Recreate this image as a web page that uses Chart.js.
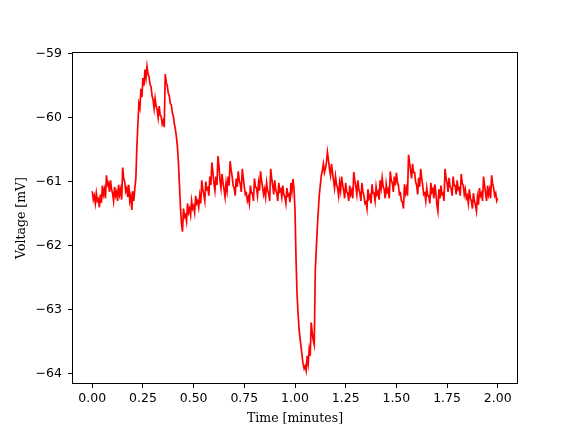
<!DOCTYPE html>
<html>
<head>
<meta charset="utf-8">
<script src="https://cdn.jsdelivr.net/npm/chart.js@4"></script>
<style>
  html, body { margin: 0; padding: 0; background: #fff; }
  #wrap { width: 576px; height: 432px; position: relative; }
</style>
</head>
<body>
<div id="wrap"><canvas id="trace"></canvas></div>
<script>
// sample clock of the recording (minutes)
const SAMPLE_STEP = 0.005;

// membrane voltage [mV], one value per sample
const voltage = [
  -61.15, -61.28, -61.22, -61.34, -61.18, -61.30, -61.27, -61.40, -61.20, -61.33, -61.06, -61.20, -61.12, -61.26, -60.90, -61.05, -61.02, -61.16, -60.98, -61.12,
  -61.18, -61.30, -61.08, -61.22, -61.16, -61.30, -61.05, -61.20, -61.12, -61.28, -60.78, -60.95, -61.00, -61.15, -61.10, -61.24, -61.05, -61.30, -61.22, -61.44,
  -61.15, -61.30, -61.10, -60.95, -60.45, -60.10, -59.78, -59.85, -59.55, -59.68, -59.38, -59.50, -59.25, -59.38, -59.20, -59.32, -59.36, -59.48, -59.52, -59.66,
  -59.72, -59.86, -59.70, -59.82, -59.88, -60.00, -59.82, -59.96, -59.98, -60.10, -60.05, -60.15, -59.32, -59.45, -59.50, -59.62, -59.66, -59.78, -59.80, -59.92,
  -59.98, -60.10, -60.18, -60.30, -60.45, -60.70, -61.05, -61.40, -61.65, -61.78, -61.42, -61.55, -61.52, -61.62, -61.34, -61.48, -61.42, -61.52, -61.30, -61.42,
  -61.38, -61.48, -61.22, -61.34, -61.30, -61.40, -61.22, -61.34, -60.98, -61.12, -61.20, -61.30, -61.00, -61.12, -61.10, -61.22, -60.92, -61.05, -60.70, -60.85,
  -61.02, -61.14, -60.92, -61.05, -60.60, -60.75, -60.98, -61.10, -60.88, -61.02, -61.12, -61.24, -61.02, -61.14, -60.92, -61.06, -60.68, -60.82, -60.92, -61.06,
  -61.10, -61.22, -60.95, -61.08, -60.84, -60.98, -61.04, -61.16, -60.80, -60.94, -61.08, -61.20, -61.18, -61.30, -61.24, -61.34, -61.06, -61.18, -61.18, -61.30,
  -60.95, -61.08, -61.10, -61.22, -61.02, -61.14, -60.84, -60.98, -61.08, -61.20, -61.12, -61.24, -61.02, -61.14, -61.18, -61.30, -60.80, -60.95, -61.06, -61.20,
  -60.98, -61.12, -61.18, -61.30, -61.02, -61.15, -61.12, -61.24, -61.06, -61.20, -61.24, -61.34, -61.10, -61.22, -61.20, -61.32, -61.02, -61.15, -60.96, -61.10,
  -61.45, -62.20, -62.75, -63.05, -63.30, -63.45, -63.58, -63.72, -63.85, -63.92, -63.88, -63.95, -63.72, -63.84, -63.62, -63.72, -63.20, -63.35, -63.48, -63.55,
  -62.40, -62.05, -61.72, -61.45, -61.20, -61.05, -60.90, -60.82, -60.72, -60.86, -60.80, -60.70, -60.54, -60.66, -60.80, -60.90, -60.72, -60.86, -60.98, -61.10,
  -60.92, -61.05, -61.10, -61.22, -61.02, -61.14, -60.92, -61.05, -61.14, -61.26, -61.02, -61.16, -61.18, -61.30, -61.06, -61.20, -61.14, -61.26, -60.85, -60.98,
  -61.08, -61.20, -60.98, -61.12, -61.18, -61.30, -61.02, -61.16, -61.22, -61.34, -61.32, -61.42, -61.12, -61.26, -61.22, -61.34, -61.04, -61.18, -61.18, -61.30,
  -61.08, -61.20, -61.16, -61.28, -60.98, -61.10, -60.94, -61.08, -61.12, -61.26, -61.04, -61.16, -61.12, -61.26, -60.84, -60.98, -61.02, -61.16, -60.92, -61.06,
  -60.86, -61.00, -61.06, -61.20, -61.18, -61.30, -61.32, -61.42, -61.04, -61.18, -61.10, -61.22, -60.58, -60.70, -60.82, -60.95, -60.72, -60.86, -60.86, -61.00,
  -61.06, -61.20, -60.94, -61.08, -60.80, -60.94, -61.06, -61.20, -61.18, -61.30, -61.10, -61.22, -61.22, -61.34, -61.02, -61.16, -61.12, -61.26, -61.04, -61.18,
  -61.36, -61.46, -61.12, -61.26, -61.06, -61.20, -61.18, -61.30, -60.80, -60.94, -61.02, -61.16, -60.94, -61.08, -61.10, -61.22, -60.92, -61.06, -61.06, -61.20,
  -60.98, -61.12, -61.10, -61.22, -60.88, -61.02, -61.06, -61.20, -61.12, -61.26, -61.22, -61.34, -61.12, -61.26, -61.30, -61.42, -61.18, -61.30, -61.36, -61.46,
  -61.24, -61.36, -61.10, -61.22, -61.18, -61.30, -60.92, -61.06, -61.18, -61.30, -61.06, -61.20, -61.12, -61.26, -60.90, -61.04, -61.10, -61.22, -61.18, -61.30,
  -61.26
];

// tick labels
const xTicks = [0, 0.25, 0.5, 0.75, 1.0, 1.25, 1.5, 1.75, 2.0];
const yTicks = [-64, -63, -62, -61, -60, -59];

const points = voltage.map((v, i) => ({ x: +(i * SAMPLE_STEP).toFixed(3), y: v }));

const TICK_FONT  = { family: 'DejaVu Sans', size: 12.5 };
const LABEL_FONT = { family: 'DejaVu Serif', size: 12.5 };

// draw the four spines like matplotlib does
const frame = {
  id: 'frame',
  afterDraw(chart) {
    const { ctx, chartArea: a } = chart;
    ctx.save();
    ctx.strokeStyle = '#000';
    ctx.lineWidth = 1;
    ctx.strokeRect(Math.round(a.left) + 0.5, Math.round(a.top) + 0.5,
                   Math.round(a.right - a.left) - 1, Math.round(a.bottom - a.top) - 1);
    ctx.restore();
  }
};

const minus = v => String(v).replace('-', '\u2212');

new Chart(document.getElementById('trace'), {
  type: 'line',
  data: {
    datasets: [{
      data: points,
      borderColor: '#ff0000',
      borderWidth: 1.7,
      pointRadius: 0,
      tension: 0,
      fill: false,
    }]
  },
  options: {
    responsive: true,
    maintainAspectRatio: false,
    animation: false,
    events: [],
    layout: { padding: { left: 0, top: 52, right: 58, bottom: 0 } },
    plugins: { legend: { display: false }, tooltip: { enabled: false } },
    scales: {
      x: {
        type: 'linear',
        min: -0.1,
        max: 2.1,
        afterFit: s => { s.height = 48; },
        afterBuildTicks: s => { s.ticks = xTicks.map(v => ({ value: v })); },
        border: { display: false },
        grid: { drawOnChartArea: false, drawTicks: true, tickLength: 4, tickColor: '#000' },
        ticks: {
          color: '#000',
          font: TICK_FONT,
          padding: 3,
          maxRotation: 0,
          autoSkip: false,
          callback: v => v.toFixed(2),
        },
        title: {
          display: true,
          text: 'Time [minutes]',
          color: '#000',
          font: LABEL_FONT,
          padding: { top: 2, bottom: 6 },
        }
      },
      y: {
        type: 'linear',
        min: -64.16,
        max: -58.975,
        afterFit: s => { s.width = 72; },
        afterBuildTicks: s => { s.ticks = yTicks.map(v => ({ value: v })); },
        border: { display: false },
        grid: { drawOnChartArea: false, drawTicks: true, tickLength: 4, tickColor: '#000' },
        ticks: {
          color: '#000',
          font: TICK_FONT,
          padding: 6,
          autoSkip: false,
          callback: v => minus(v),
        },
        title: {
          display: true,
          text: 'Voltage [mV]',
          color: '#000',
          font: LABEL_FONT,
          padding: { top: 14, bottom: 14 },
        }
      }
    }
  },
  plugins: [frame]
});
</script>
</body>
</html>
